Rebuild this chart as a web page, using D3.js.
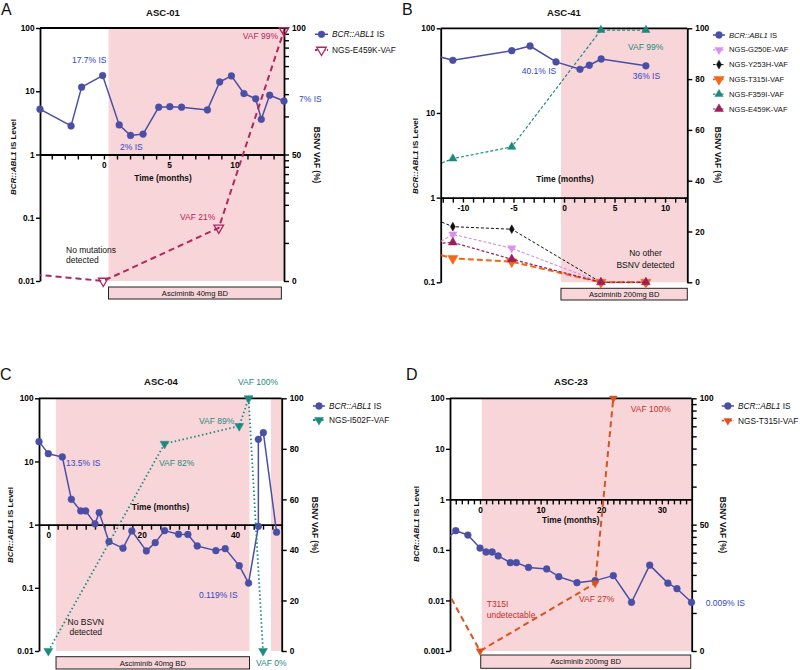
<!DOCTYPE html>
<html><head><meta charset="utf-8">
<script src="https://cdn.jsdelivr.net/npm/d3@7"></script>
<style>
body{margin:0;background:#fff}
svg{display:block}
text{font-family:"Liberation Sans",Arial,Helvetica,sans-serif}
</style>
</head><body>
<svg id="c" width="800" height="670"></svg>
<script>
// ---------------- DATA ----------------
// Panel A (ASC-01)
const A_isMonths  = [-4.9, -2.52, -1.71, -0.1, 1.17, 2.04, 3.0, 4.2, 5.05, 5.95, 7.93, 8.87, 9.77, 10.73, 11.63, 12.06, 12.7, 13.8];
const A_isValues  = [5.2, 2.83, 11.6, 17.7, 2.94, 2.0, 2.1, 5.6, 5.7, 5.6, 5.07, 14.0, 17.5, 9.2, 7.6, 3.6, 8.65, 7.0];
const A_vafMonths = [-6, -0.05, 8.8, 13.8];
const A_E459K     = [2.9, 0, 21, 99];
const A_xLabels   = [0, 5, 10];
const A_yTicks    = [0.01, 0.1, 1, 10, 100];
const A_rTicks    = [0, 50, 100];

// Panel B (ASC-41)
const B_isMonths  = [-13, -11.0, -5.17, -3.36, -0.79, 1.58, 2.5, 3.68, 8.1];
const B_isValues  = [48.5, 41.9, 54.4, 61.8, 40.1, 32.8, 36.6, 43.4, 36.0];
const B_vafMonths = [-13, -11.0, -5.17, 3.65, 8.1];
const B_G250E     = [14.1, 18.9, 13.4, 0, 0];
const B_Y253H     = [25.2, 21.9, 20.9, 0, 0];
const B_T315I     = [11.6, 9.4, 8.1, 0, 0];
const B_F359I     = [45.5, 48.7, 53.3, 99.3, 99.3];
const B_E459K     = [15.2, 15.7, 9.1, 0, 0];
const B_xLabels   = [-10, -5, 0, 5, 10];
const B_yTicks    = [0.1, 1, 10, 100];
const B_rTicks    = [0, 20, 40, 60, 80, 100];

// Panel C (ASC-04)
const C_isMonths  = [-2, 0, 3, 4.93, 6.94, 8, 10, 10.9, 13, 16, 17.9, 21, 22.9, 24.9, 27.9, 29.9, 31.9, 35.9, 37.9, 40.9, 42.9, 45, 45, 46.07, 48.9];
const C_isValues  = [20.6, 13.3, 11.8, 2.52, 1.65, 1.65, 1.03, 1.55, 0.538, 0.424, 0.794, 0.384, 0.519, 0.804, 0.705, 0.70, 0.46, 0.388, 0.417, 0.224, 0.119, 0.94, 22.4, 28.6, 0.76];
const C_vafMonths = [0, 24.9, 40.9, 42.9, 46.0];
const C_I502F     = [0, 82, 89, 100, 0];
const C_xLabels   = [0, 20, 40];
const C_yTicks    = [0.01, 0.1, 1, 10, 100];
const C_rTicks    = [0, 20, 40, 60, 80, 100];

// Panel D (ASC-23)
const D_isMonths  = [-5.5, -4, -2, 0, 1, 2, 3, 5, 6, 8, 11, 13, 16, 19, 22, 25, 28, 31, 32.5, 34.9];
const D_isValues  = [0.165, 0.240, 0.197, 0.109, 0.091, 0.091, 0.076, 0.056, 0.056, 0.045, 0.042, 0.0295, 0.0225, 0.0247, 0.031, 0.0092, 0.050, 0.022, 0.0171, 0.0092];
const D_vafMonths = [-5.5, 0, 19.0, 22.0];
const D_T315I     = [24.2, 0, 26.8, 100];
const D_xLabels   = [0, 10, 20, 30];
const D_yTicks    = [0.001, 0.01, 0.1, 1, 10, 100];
const D_rTicks    = [0, 50, 100];

// ---------------- STYLE ----------------
const PINK   = '#f8d5d9';
const IS_COL = '#4a4fa6';
const IS_TXT = '#3346c0';
const A_COL  = '#b0265f';
const TEAL   = '#1b8b80';
const VIOLET = '#d990ee';
const ORANGE = '#f26818';
const MAROON = '#9a1f5a';
const D_COL  = '#d9541c';
const D_TXT  = '#c4302c';

const isSeries = (m, v) => ({name:'BCR::ABL1 IS', italic:true, months:m, values:v, axis:'left', color:IS_COL, width:1.5, dash:null, sym:d3.symbolCircle, size:36, rot:0, open:false});

const panels = [
 {id:'A', letter:'A', lx:1, ly:15, title:'ASC-01', tx:163, ty:13,
  left:40, right:284, top:28, bottom:281, xDomain:[-4.9,13.8], yDomain:[0.01,100],
  xLabels:A_xLabels, xStep:1, xStart:-4, yTicks:A_yTicks, rTicks:A_rTicks, rLogMinor:true,
  shades:[[0.35,13.8]], box:[0.35,13.6], boxY:287, boxH:12, boxText:'Asciminib 40mg BD',
  timeX:163, timeY:178, leftLab:[13,157], rightLab:[317,155],
  legend:{x:315, y:34.3, dy:15.7, len:13, fs:8.3},
  series:[
    isSeries(A_isMonths, A_isValues),
    {name:'NGS-E459K-VAF', months:A_vafMonths, values:A_E459K, axis:'right', color:A_COL, width:2, dash:'6,4', sym:d3.symbolTriangle, size:40, rot:180, open:true}
  ],
  notes:[
    {t:'17.7% IS', x:72, y:60, c:IS_TXT},
    {t:'2% IS', x:120, y:147, c:IS_TXT},
    {t:'7% IS', x:299, y:99, c:IS_TXT},
    {t:'VAF 99%', x:278, y:36, c:A_COL, a:'end'},
    {t:'VAF 21%', x:180, y:217, c:A_COL},
    {t:'No mutations', x:66, y:250, c:'#111'},
    {t:'detected', x:66, y:260, c:'#111'}
  ]},
 {id:'B', letter:'B', lx:402, ly:15, title:'ASC-41', tx:564, ty:13,
  left:440.7, right:687.3, top:28.3, bottom:282.3, xDomain:[-12.2,12.2], yDomain:[0.1,100],
  xLabels:B_xLabels, xStep:1, xStart:-12, yTicks:B_yTicks, rTicks:B_rTicks, rLogMinor:false,
  shades:[[-0.3,12.2]], box:[-0.3,12.2], boxY:288.3, boxH:11.7, boxText:'Asciminib 200mg BD',
  timeX:565, timeY:179, leftLab:[415,156], rightLab:[718,155],
  legend:{x:713, y:35, dy:14.8, len:12, fs:7.6},
  series:[
    isSeries(B_isMonths, B_isValues),
    {name:'NGS-G250E-VAF', months:B_vafMonths, values:B_G250E, axis:'right', color:VIOLET, width:1.2, dash:'3,2', sym:d3.symbolTriangle, size:30, rot:180},
    {name:'NGS-Y253H-VAF', months:B_vafMonths, values:B_Y253H, axis:'right', color:'#111', width:1, dash:'3,2', sym:d3.symbolDiamond, size:22, rot:0},
    {name:'NGS-T315I-VAF', months:B_vafMonths, values:B_T315I, axis:'right', color:ORANGE, width:2, dash:'6,3', sym:d3.symbolTriangle, size:46, rot:180},
    {name:'NGS-F359I-VAF', months:B_vafMonths, values:B_F359I, axis:'right', color:TEAL, width:1.2, dash:'3,2', sym:d3.symbolTriangle, size:30, rot:0},
    {name:'NGS-E459K-VAF', months:B_vafMonths, values:B_E459K, axis:'right', color:MAROON, width:1.2, dash:'3,2', sym:d3.symbolTriangle, size:34, rot:0}
  ],
  notes:[
    {t:'40.1% IS', x:521.7, y:71, c:IS_TXT},
    {t:'36% IS', x:632.7, y:75.7, c:IS_TXT},
    {t:'VAF 99%', x:628, y:46.7, c:TEAL},
    {t:'No other', x:645.5, y:253.3, c:'#111', a:'middle'},
    {t:'BSNV detected', x:645.5, y:265, c:'#111', a:'middle'}
  ]},
 {id:'C', letter:'C', lx:0, ly:380, title:'ASC-04', tx:161, ty:381.7,
  left:39, right:281.7, top:398.3, bottom:651, xDomain:[-2,50], yDomain:[0.01,100],
  xLabels:C_xLabels, xStep:2, xStart:0, yTicks:C_yTicks, rTicks:C_rTicks, rLogMinor:false,
  shades:[[1.65,43.1],[47.7,50]], box:[1.65,43.1], boxY:656.7, boxH:12.3, boxText:'Asciminib 40mg BD',
  timeX:160.5, timeY:506.7, leftLab:[10,525], rightLab:[315,525],
  legend:{x:313, y:406, dy:14, len:12, fs:8.3},
  series:[
    isSeries(C_isMonths, C_isValues),
    {name:'NGS-I502F-VAF', months:C_vafMonths, values:C_I502F, axis:'right', color:TEAL, width:1.8, dash:'1.5,2.5', sym:d3.symbolTriangle, size:34, rot:180}
  ],
  notes:[
    {t:'13.5% IS', x:66, y:463, c:IS_TXT},
    {t:'0.119% IS', x:199, y:595, c:IS_TXT},
    {t:'VAF 100%', x:238, y:381.7, c:TEAL},
    {t:'VAF 89%', x:199, y:421, c:TEAL},
    {t:'VAF 82%', x:159, y:462.7, c:TEAL},
    {t:'No BSVN', x:85.8, y:622, c:'#111', a:'middle'},
    {t:'detected', x:85.8, y:632.3, c:'#111', a:'middle'},
    {t:'VAF 0%', x:256, y:663, c:TEAL}
  ]},
 {id:'D', letter:'D', lx:406, ly:380, title:'ASC-23', tx:571, ty:381.7,
  left:450, right:691.7, top:398.3, bottom:651, xDomain:[-4.95,34.93], yDomain:[0.001,100],
  xLabels:D_xLabels, xStep:1, xStart:-4, yTicks:D_yTicks, rTicks:D_rTicks, rLogMinor:true,
  shades:[[0.28,34.93]], box:[0.12,34.77], boxY:655, boxH:13.3, boxText:'Asciminib 200mg BD',
  timeX:570.7, timeY:520, leftLab:[415.7,524], rightLab:[723.3,525],
  legend:{x:721.7, y:406, dy:14.7, len:12.3, fs:8.3},
  series:[
    isSeries(D_isMonths, D_isValues),
    {name:'NGS-T315I-VAF', months:D_vafMonths, values:D_T315I, axis:'right', color:D_COL, width:2, dash:'6,4', sym:d3.symbolTriangle, size:26, rot:180}
  ],
  notes:[
    {t:'VAF 100%', x:630.7, y:409.3, c:D_TXT},
    {t:'VAF 27%', x:579, y:599.3, c:D_TXT},
    {t:'T315I', x:486.7, y:604, c:D_TXT},
    {t:'undetectable', x:486.7, y:614.5, c:D_TXT},
    {t:'0.009% IS', x:705.7, y:602.7, c:IS_TXT}
  ]}
];

// ---------------- DRAW ----------------
const svg = d3.select('#c');
const defs = svg.append('defs');

function styleAxis(sel){
  sel.select('.domain').attr('stroke','#000').attr('stroke-width',1.8);
  sel.selectAll('.tick line').attr('stroke','#000').attr('stroke-width',1.4);
  sel.selectAll('.tick text').attr('fill','#000').style('font-size','8.3px').style('font-weight','bold')
     .style('font-family','"Liberation Sans",Arial,sans-serif');
}

function drawPanel(p){
  const g = svg.append('g');
  const x  = d3.scaleLinear().domain(p.xDomain).range([p.left, p.right]);
  const y  = d3.scaleLog().domain(p.yDomain).range([p.bottom, p.top]);
  const yr = d3.scaleLinear().domain([0,100]).range([p.bottom, p.top]);

  p.shades.forEach(s => {
    g.append('rect').attr('x', x(s[0])).attr('y', p.top)
      .attr('width', x(s[1]) - x(s[0])).attr('height', p.bottom - p.top).attr('fill', PINK);
  });

  g.append('rect').attr('x', x(p.box[0])).attr('y', p.boxY)
    .attr('width', x(p.box[1]) - x(p.box[0])).attr('height', p.boxH)
    .attr('fill', PINK).attr('stroke', '#222').attr('stroke-width', 1);
  g.append('text').attr('x', (x(p.box[0]) + x(p.box[1])) / 2).attr('y', p.boxY + p.boxH/2 + 2.7)
    .attr('text-anchor','middle').style('font-size','7.6px').attr('fill','#111').text(p.boxText);

  g.append('line').attr('x1', p.left).attr('x2', p.right).attr('y1', p.top).attr('y2', p.top)
    .attr('stroke','#000').attr('stroke-width',1.8);

  const la = g.append('g').attr('transform', `translate(${p.left},0)`)
    .call(d3.axisLeft(y).tickValues(p.yTicks).tickFormat(d => String(d)).tickSize(4).tickSizeOuter(0).tickPadding(1.5));
  styleAxis(la);

  const ra = g.append('g').attr('transform', `translate(${p.right},0)`)
    .call(d3.axisRight(yr).tickValues(p.rTicks).tickFormat(d => String(d)).tickSize(5).tickSizeOuter(0).tickPadding(3));
  styleAxis(ra);
  if (p.rLogMinor) {
    const minors = [];
    for (let h = 0; h < 100; h += 50) {
      for (let k = 2; k <= 9; k++) minors.push(h + 50 * Math.log10(k));
    }
    const rm = g.append('g').attr('transform', `translate(${p.right},0)`)
      .call(d3.axisRight(yr).tickValues(minors).tickFormat('').tickSize(5).tickSizeOuter(0));
    styleAxis(rm);
    rm.select('.domain').remove();
  }

  const xt = [];
  for (let v = p.xStart; v <= p.xDomain[1] + 1e-9; v += p.xStep) xt.push(+v.toFixed(3));
  const xa = g.append('g').attr('transform', `translate(0,${y(1)})`)
    .call(d3.axisBottom(x).tickValues(xt).tickFormat(d => p.xLabels.includes(d) ? String(d) : '')
      .tickSize(5).tickSizeOuter(0).tickPadding(2.5));
  styleAxis(xa);

  const cid = 'clip' + p.id;
  defs.append('clipPath').attr('id', cid).append('rect')
    .attr('x', p.left).attr('y', p.top - 30).attr('width', p.right - p.left + 20).attr('height', p.bottom - p.top + 60);

  const symPath = (s) => d3.symbol().type(s.sym).size(s.size)();
  p.series.forEach(s => {
    const sc = s.axis === 'left' ? y : yr;
    const pts = s.months.map((m, i) => [m, s.values[i]]);
    g.append('path').attr('clip-path', `url(#${cid})`)
      .attr('d', d3.line().x(d => x(d[0])).y(d => sc(d[1]))(pts))
      .attr('fill','none').attr('stroke', s.color).attr('stroke-width', s.width)
      .attr('stroke-dasharray', s.dash).attr('stroke-linejoin','round');
    g.selectAll(null).data(pts.filter(d => d[0] >= p.xDomain[0] - 0.02)).enter().append('path')
      .attr('d', symPath(s))
      .attr('transform', d => `translate(${x(d[0])},${sc(d[1])}) rotate(${s.rot})`)
      .attr('fill', s.open ? 'none' : s.color)
      .attr('stroke', s.color).attr('stroke-width', s.open ? 1.3 : 0.5);
  });

  const L = p.legend;
  p.series.forEach((s, i) => {
    const ly = L.y + i * L.dy;
    g.append('line').attr('x1', L.x).attr('x2', L.x + L.len).attr('y1', ly).attr('y2', ly)
      .attr('stroke', s.color).attr('stroke-width', Math.min(s.width, 1.8)).attr('stroke-dasharray', s.dash ? '2.5,1.5' : null);
    g.append('path').attr('d', symPath(s))
      .attr('transform', `translate(${L.x + L.len/2},${ly}) rotate(${s.rot})`)
      .attr('fill', s.open ? '#fff' : s.color).attr('stroke', s.color).attr('stroke-width', s.open ? 1.3 : 0.5);
    const t = g.append('text').attr('x', L.x + L.len + 4).attr('y', ly + L.fs * 0.35)
      .style('font-size', L.fs + 'px').attr('fill', '#111');
    if (s.italic) {
      t.append('tspan').style('font-style','italic').text('BCR::ABL1');
      t.append('tspan').text(' IS');
    } else t.text(s.name);
  });

  g.append('text').attr('x', p.lx).attr('y', p.ly).style('font-size','16px').attr('fill','#111').text(p.letter);
  g.append('text').attr('x', p.tx).attr('y', p.ty + 3.4).attr('text-anchor','middle')
    .style('font-size','9.5px').style('font-weight','bold').attr('fill','#111').text(p.title);
  g.append('text').attr('x', p.timeX).attr('y', p.timeY + 3).attr('text-anchor','middle')
    .style('font-size','8.4px').style('font-weight','bold').attr('fill','#111').text('Time (months)');
  const ll = g.append('text').attr('transform', `translate(${p.leftLab[0]},${p.leftLab[1]}) rotate(-90)`)
    .attr('text-anchor','middle').attr('dy','0.35em').style('font-size','8px').style('font-weight','bold').attr('fill','#111');
  ll.append('tspan').style('font-style','italic').text('BCR::ABL1');
  ll.append('tspan').text(' IS Level');
  g.append('text').attr('transform', `translate(${p.rightLab[0]},${p.rightLab[1]}) rotate(90)`)
    .attr('text-anchor','middle').attr('dy','0.35em').style('font-size','8.3px').style('font-weight','bold')
    .attr('fill','#111').text('BSNV VAF (%)');

  p.notes.forEach(n => {
    g.append('text').attr('x', n.x).attr('y', n.y + 3).attr('text-anchor', n.a || 'start')
      .style('font-size','8.5px').attr('fill', n.c).text(n.t);
  });
}

panels.forEach(drawPanel);
</script>
</body></html>
